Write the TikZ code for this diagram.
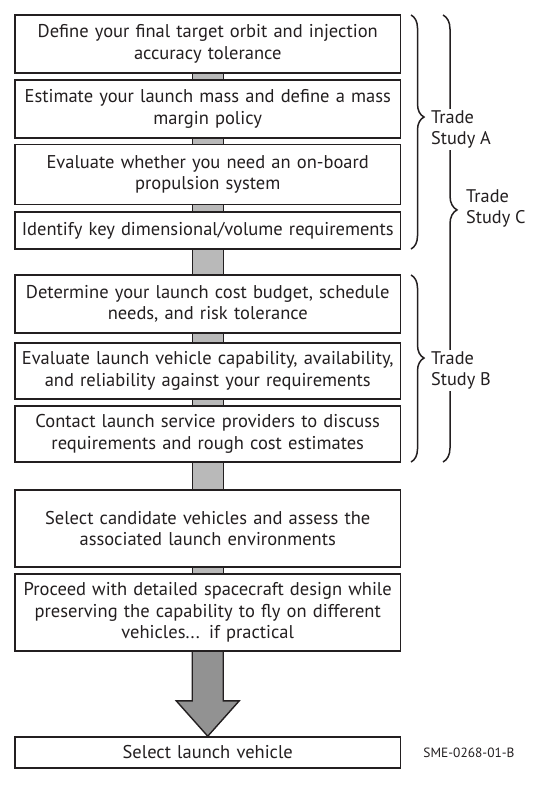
\documentclass[tikz,border=0pt]{standalone}
\usepackage{fontspec}
\setmainfont{PT Sans}
\usetikzlibrary{decorations.pathreplacing,calc}
\pgfdeclarelayer{background}
\pgfsetlayers{background,main}
\definecolor{ink}{HTML}{231F20}
\definecolor{shaftgray}{HTML}{B9B9B9}
\definecolor{arrowgray}{HTML}{929292}
\newcommand\shaftlink[2]{%
  \fill[shaftgray] ($(#1.south)+(-15.5,0)$) rectangle ($(#2.north)+(15.5,0)$);
  \draw[shaftedge] ($(#1.south)+(-15.5,0)$) -- ($(#2.north)+(-15.5,0)$);
  \draw[shaftedge] ($(#1.south)+(15.5,0)$) -- ($(#2.north)+(15.5,0)$);}
\begin{document}
\begin{tikzpicture}[x=1pt,y=-1pt,
  box/.style={draw=ink, line width=1.6pt, fill=white, text width=385.5pt,
    inner xsep=0pt, inner ysep=0pt, align=center, text=ink,
    font=\fontsize{18.5}{21.5}\selectfont},
  shaftedge/.style={draw=ink, line width=1.4pt},
  bracestyle/.style={draw=ink, line width=1.5pt, decorate},
  lab/.style={align=left, text=ink, inner sep=2pt, font=\fontsize{18.3}{21}\selectfont}]
\useasboundingbox (0,0) rectangle (556,788);
\node[box, minimum height=58pt] (n1) at (207.75,44) {Define your final target orbit and injection\\accuracy tolerance};
\node[box, minimum height=58pt] (n2) at (207.75,109) {Estimate your launch mass and define a mass\\margin policy};
\node[box, minimum height=60pt] (n3) at (207.75,174.5) {Evaluate whether you need an on-board\\propulsion system};
\node[box, minimum height=37pt] (n4) at (207.75,230.5) {Identify key dimensional/volume requirements};
\node[box, minimum height=58pt] (n5) at (207.75,304) {Determine your launch cost budget, schedule\\needs, and risk tolerance};
\node[box, minimum height=56pt] (n6) at (207.75,371) {Evaluate launch vehicle capability, availability,\\and reliability against your requirements};
\node[box, minimum height=56pt] (n7) at (207.75,434) {Contact launch service providers to discuss\\requirements and rough cost estimates};
\node[box, minimum height=77pt] (n8) at (207.75,528.5) {Select candidate vehicles and assess the\\associated launch environments};
\node[box, minimum height=77pt] (n9) at (207.75,612.5) {Proceed with detailed spacecraft design while\\preserving the capability to fly on different\\vehicles... if practical};
\node[box, minimum height=31pt] (n10) at (207.75,752.5) {Select launch vehicle};
\begin{pgfonlayer}{background}
\shaftlink{n1}{n2}
\shaftlink{n2}{n3}
\shaftlink{n3}{n4}
\shaftlink{n4}{n5}
\shaftlink{n5}{n6}
\shaftlink{n6}{n7}
\shaftlink{n7}{n8}
\shaftlink{n8}{n9}
\filldraw[fill=arrowgray, draw=ink, line width=1.4pt, line join=miter]
  ($(n9.south)+(-15.5,0)$) -- ($(n9.south)+(-15.5,49)$) -- ($(n9.south)+(-31.5,49)$)
  -- (n10.north) -- ($(n9.south)+(31.5,49)$) -- ($(n9.south)+(15.5,49)$) -- ($(n9.south)+(15.5,0)$);
\end{pgfonlayer}
\draw[bracestyle, decoration={brace, amplitude=14pt, aspect=0.436}] (443,15) -- (443,462);
\draw[bracestyle, decoration={brace, amplitude=13pt, aspect=0.436}] (411,15) -- (411,249);
\draw[bracestyle, decoration={brace, amplitude=13pt, aspect=0.444}] (411,275) -- (411,462);
\node[lab, anchor=west, fill=white] (la) at (429,129.5) {Trade\\Study A};
\node[lab, anchor=west, fill=white] (lb) at (429,370.5) {Trade\\Study B};
\node[lab, anchor=west] (lc) at (464,208) {Trade\\Study C};
\node[text=ink, inner sep=0pt, font=\fontsize{13.4}{15}\selectfont] (sme) at (469,753) {SME-0268-01-B};
\end{tikzpicture}
\end{document}
